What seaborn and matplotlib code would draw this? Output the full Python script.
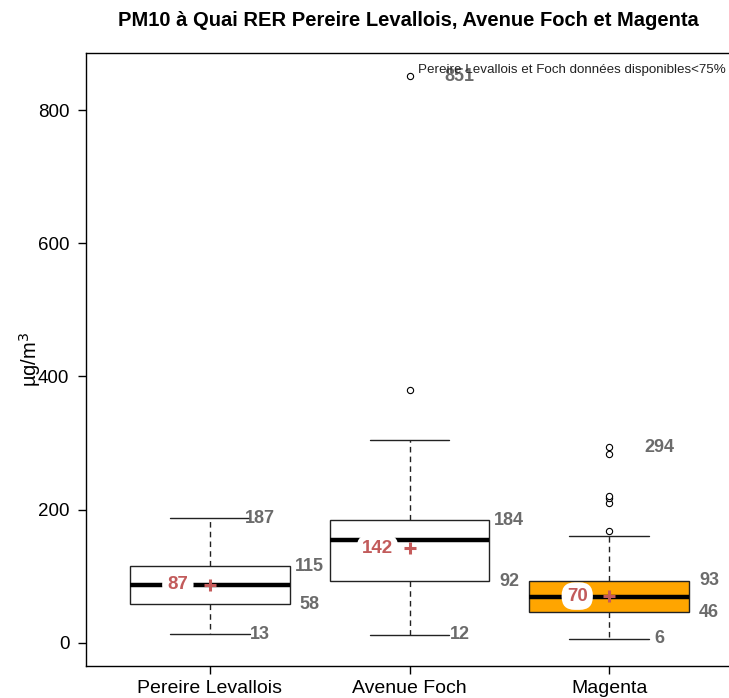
import matplotlib
matplotlib.use("Agg")
import matplotlib.pyplot as plt
import seaborn as sns
import pandas as pd

# ---- data ----
stations = ["Pereire Levallois", "Avenue Foch", "Magenta"]
whisker_low = [13, 12, 6]
q1 = [58, 92, 46]
median = [86, 155, 68]
q3 = [115, 184, 93]
whisker_high = [187, 305, 160]
means = [87, 142, 70]
maxima = [187, 851, 294]
outliers = [[], [379, 851], [168, 210, 217, 221, 284, 294]]
box_colors = ["white", "white", "#FFA500"]
title = "PM10 à Quai RER Pereire Levallois, Avenue Foch et Magenta"
note = "Pereire Levallois et Foch données disponibles<75%"

sns.set_theme(style="ticks")
plt.rcParams["font.family"] = ["Liberation Sans", "DejaVu Sans"]

fig = plt.figure(figsize=(7.29, 6.98), dpi=100)
ax = fig.add_axes([86 / 729, 32 / 698, (733 - 86) / 729, (666 - 53) / 698])

positions = list(range(1, len(stations) + 1))
stats = []
for i in range(len(stations)):
    stats.append(dict(med=median[i], q1=q1[i], q3=q3[i],
                      whislo=whisker_low[i], whishi=whisker_high[i],
                      fliers=outliers[i], label=stations[i]))

bp = ax.bxp(stats, positions=positions, widths=0.8, capwidths=0.4,
            patch_artist=True, showfliers=True,
            boxprops=dict(edgecolor="#222222", linewidth=1.0),
            medianprops=dict(color="black", linewidth=3.2, solid_capstyle="butt"),
            whiskerprops=dict(color="#222222", linewidth=1.0, linestyle=(0, (4, 3))),
            capprops=dict(color="#222222", linewidth=1.0),
            flierprops=dict(marker="o", markersize=4.5, markerfacecolor="white",
                            markeredgecolor="black", markeredgewidth=0.8))
for patch, c in zip(bp["boxes"], box_colors):
    patch.set_facecolor(c)

# mean markers via seaborn
df_mean = pd.DataFrame({"pos": positions, "mean": means})
sns.scatterplot(data=df_mean, x="pos", y="mean", marker="+", s=80,
                color="#c55a5a", linewidth=2.2, ax=ax, zorder=6, legend=False)

grey = "#6b6b6b"
red = "#c25b5b"
lab_kw = dict(color=grey, fontsize=13, fontweight="bold", ha="center", va="center", zorder=7)
for i, p in enumerate(positions):
    ax.text(p + 0.25, maxima[i], f"{maxima[i]}", **lab_kw)
    ax.text(p + 0.25, whisker_low[i], f"{whisker_low[i]}", **lab_kw)
    ax.text(p + 0.5, q3[i], f"{q3[i]}", **lab_kw)
    ax.text(p + 0.5, q1[i], f"{q1[i]}", **lab_kw)
    ax.text(p - 0.16, means[i], f"{means[i]}", color=red, fontsize=13.5,
            fontweight="bold", ha="center", va="center", zorder=8,
            bbox=dict(boxstyle="round,pad=0.28,rounding_size=0.7",
                      facecolor="white", edgecolor="none"))

ax.text(3.586, 860, note, fontsize=9.6, ha="right", va="center", color="#222222", zorder=9)

ax.set_xlim(0.38, 3.62)
ax.set_ylim(-35, 886)
ax.set_yticks([0, 200, 400, 600, 800])
ax.set_xticks(positions)
ax.set_xticklabels(stations, fontsize=14)
ax.tick_params(axis="y", labelsize=13.5, length=6, width=1, color="black", pad=6)
ax.tick_params(axis="x", length=6, width=1, color="black", pad=4)
for t in ax.get_yticklabels() + ax.get_xticklabels():
    t.set_color("black")
for s in ax.spines.values():
    s.set_visible(True)
    s.set_color("black")
    s.set_linewidth(1.0)
ax.set_xlabel("")
ax.set_ylabel("µg/m$^3$", fontsize=14.5, color="black")
ax.yaxis.set_label_coords(-0.066, 0.5)

fig.text(408 / 729, 1 - 20 / 698, title, fontsize=14.5, fontweight="bold",
         ha="center", va="center", color="black")

fig.savefig("out.png", dpi=100)
